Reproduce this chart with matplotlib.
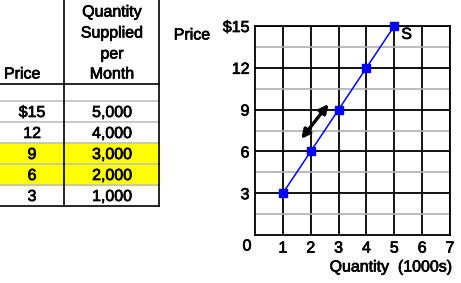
import matplotlib
matplotlib.use("Agg")
from matplotlib import pyplot as plt
import matplotlib.patheffects as pe
import numpy as np

plt.rcParams['font.family'] = ['Liberation Sans', 'DejaVu Sans']

# supply schedule
price = [15, 12, 9, 6, 3]
quantity = [5000, 4000, 3000, 2000, 1000]
price_labels = ['$15', '12', '9', '6', '3']
qty_labels = ['5,000', '4,000', '3,000', '2,000', '1,000']
highlight = [9, 6]
yticks = [3, 6, 9, 12, 15]
ytick_labels = ['3', '6', '9', '12', '$15']
xticks = [1, 2, 3, 4, 5, 6, 7]

W, H = 461, 283
fig = plt.figure(figsize=(W / 100, H / 100), dpi=100)

fs = 11.5
heavy = [pe.withStroke(linewidth=0.5, foreground='black')]
tkw = dict(fontsize=fs, path_effects=heavy)

# background axes in pixel coords for the table
bg = fig.add_axes([0, 0, 1, 1])
bg.set_xlim(0, W)
bg.set_ylim(H, 0)
bg.axis('off')

row_top = 101
row_h = 21
for i, (p, q) in enumerate(zip(price_labels, qty_labels)):
    y0 = row_top + i * row_h
    if price[i] in highlight:
        bg.fill_between([0, 159], y0, y0 + row_h, color='#ffff00', zorder=0)
    bg.text(32, y0 + row_h / 2 + 1, p, ha='center', va='center', **tkw)
    bg.text(112, y0 + row_h / 2 + 1, q, ha='center', va='center', **tkw)
    bg.plot([0, 159], [y0, y0], color='#c0c0c0', lw=1.2, zorder=1)
bg.plot([0, 159], [84, 84], color='black', lw=1.2)
bg.plot([0, 159], [206, 206], color='black', lw=1.2)
bg.plot([64, 64], [0, 206], color='black', lw=1.2)
bg.plot([159, 159], [0, 206], color='black', lw=1.2)

bg.text(4, 74, 'Price', ha='left', va='center', **tkw)
for yy, s in zip([12, 33, 54, 74], ['Quantity', 'Supplied', 'per', 'Month']):
    bg.text(112, yy, s, ha='center', va='center', **tkw)

# the supply curve
ax = fig.add_axes([255 / W, (H - 235) / H, 195 / W, 209 / H])
ax.set_xlim(0, 7)
ax.set_ylim(0, 15)
ax.set_yticks(np.arange(1.5, 15, 3), minor=True)
ax.grid(True, which='minor', axis='y', color='#b0b0b0', lw=1.2)
ax.grid(True, which='major', color='black', lw=1.3)
ax.set_xticks(xticks)
ax.set_yticks(yticks)
ax.set_yticklabels(ytick_labels)
ax.tick_params(which='both', length=0, labelsize=fs, pad=4)
ax.tick_params(axis='x', pad=4)
for lab in ax.get_xticklabels() + ax.get_yticklabels():
    lab.set_path_effects(heavy)
for s in ax.spines.values():
    s.set_linewidth(1.3)
ax.set_axisbelow(True)

ax.plot(np.array(quantity) / 1000, price, color='#0000ff', lw=1.1,
        marker='s', ms=5.2, clip_on=False, zorder=3)
ax.text(5.25, 14.4, 'S', ha='left', va='center', **tkw)
ax.annotate('', xy=(2.64, 9.4), xytext=(1.66, 6.9),
            arrowprops=dict(arrowstyle='<|-|>', color='black', lw=2.4,
                            mutation_scale=13, shrinkA=0, shrinkB=0))

bg.text(247, 246, '0', ha='center', va='center', **tkw)
bg.text(192, 35, 'Price', ha='center', va='center', **tkw)
bg.text(391, 267, 'Quantity  (1000s)', ha='center', va='center', **tkw)

fig.savefig('out.png', dpi=100)
